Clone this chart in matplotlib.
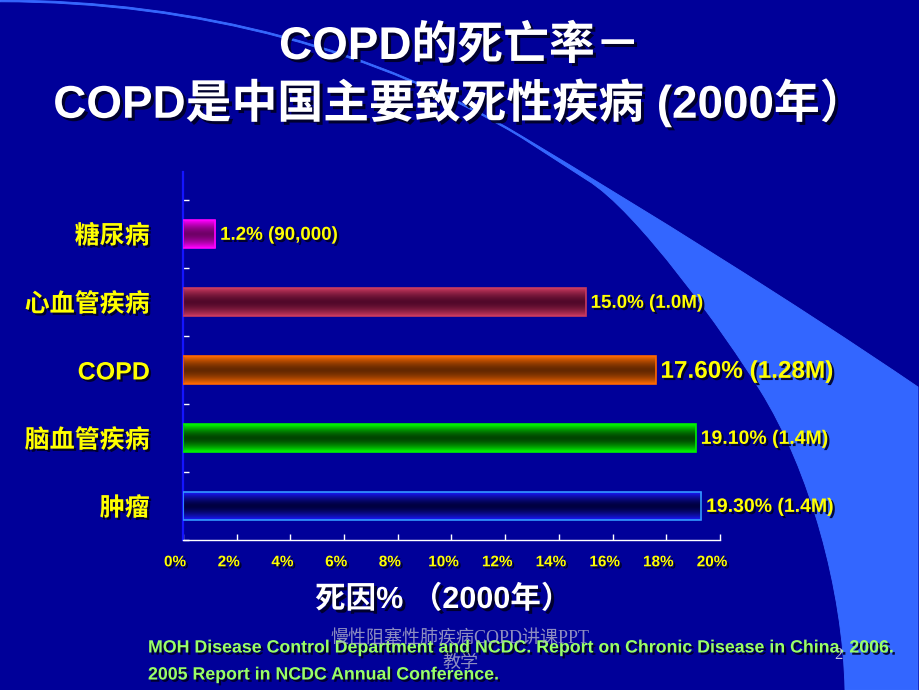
import numpy as np
import matplotlib
matplotlib.use('Agg')
import matplotlib.pyplot as plt
import matplotlib.transforms as mtransforms
from matplotlib import patheffects as pe
from matplotlib.path import Path
from matplotlib.patches import PathPatch
from matplotlib.colors import to_rgb

plt.rcParams['font.family'] = ['Liberation Sans', 'Noto Sans CJK SC', 'DejaVu Sans']

# 数据（自下而上）
categories = ['肿瘤', '脑血管疾病', 'COPD', '心血管疾病', '糖尿病']
percent = [19.3, 19.1, 17.6, 15.0, 1.2]
value_labels = ['19.30% (1.4M)', '19.10% (1.4M)', '17.60% (1.28M)', '15.0% (1.0M)', '1.2% (90,000)']
label_sizes = [14, 14, 17.5, 13.5, 13.5]
edge_colors = ['#1a1aff', '#00ff00', '#ff6a00', '#c8385e', '#ff00ff']
dark_colors = ['#000040', '#004400', '#642800', '#52082a', '#700068']
border_colors = ['#3399ff', '#00ee00', '#ff6600', '#c83a60', '#ff00ff']
x_ticks = [0, 2, 4, 6, 8, 10, 12, 14, 16, 18, 20]
x_ticklabels = [str(v) + '%' for v in x_ticks]

bg_color = '#000099'
yellow = '#ffff00'
shadow = [pe.withSimplePatchShadow(offset=(1.6, -1.6), shadow_rgbFace='#000022', alpha=0.9)]

fig = plt.figure(figsize=(9.2, 6.9), dpi=100, facecolor=bg_color)

# 背景装饰：右侧的浅蓝色弧带
bg = fig.add_axes([0, 0, 1, 1])
bg.set_xlim(0, 920)
bg.set_ylim(690, 0)
bg.axis('off')
verts = [(0, 0),
         (200, 0), (380, 51), (520, 135),
         (650, 213), (790, 300), (918, 387),
         (918, 690), (845, 690),
         (843, 590), (810, 470), (760, 390),
         (725, 334), (637, 210), (587, 180),
         (522, 138),
         (382, 53), (200, 1.8), (0, 1.8),
         (0, 0)]
codes = ([Path.MOVETO] + [Path.CURVE4] * 6 + [Path.LINETO] * 2 + [Path.CURVE4] * 6
         + [Path.LINETO] + [Path.CURVE4] * 3 + [Path.CLOSEPOLY])
bg.add_patch(PathPatch(Path(verts, codes), facecolor='#3366ff', edgecolor='#3a6cff', lw=0.6))

# 主图
ax = fig.add_axes([183 / 920, 150 / 690, 537 / 920, 368 / 690])
ax.set_facecolor('none')
y = np.arange(len(categories))
bars = ax.barh(y, percent, height=0.4, color=dark_colors, edgecolor=border_colors, linewidth=1.2, zorder=3)

# 柱子的圆柱形渐变
t = np.linspace(0, 1, 60)
w = np.abs(2 * t - 1) ** 1.6
for bar, ec, dc in zip(bars, edge_colors, dark_colors):
    e = np.array(to_rgb(ec))
    d = np.array(to_rgb(dc))
    grad = d + (e - d) * w[:, None]
    img = ax.imshow(grad[:, None, :], aspect='auto', origin='lower', zorder=2.5,
                    extent=(bar.get_x(), bar.get_x() + bar.get_width(),
                            bar.get_y(), bar.get_y() + bar.get_height()))
    img.set_clip_path(bar)
    bar.set_facecolor('none')

for yi, v, lbl, fs in zip(y, percent, value_labels, label_sizes):
    ax.annotate(lbl, xy=(v, yi), xytext=(3.5, -1), textcoords='offset points',
                ha='left', va='center', color=yellow, fontsize=fs, fontweight='bold',
                path_effects=shadow, annotation_clip=False)

ax.set_xlim(0, 20)
ax.set_ylim(-0.5, 4.91)

for s in ['top', 'right']:
    ax.spines[s].set_visible(False)
ax.spines['left'].set_color('#1414ff')
ax.spines['left'].set_linewidth(1.6)
ax.spines['bottom'].set_color('white')
ax.spines['bottom'].set_linewidth(1)

ax.set_yticks(y, categories)
ax.set_yticks(np.arange(-0.5, 5, 1), minor=True)
ax.tick_params(axis='y', which='major', length=0, pad=24, labelsize=18, labelcolor=yellow)
ax.tick_params(axis='y', which='minor', direction='in', length=4, color='white', width=1)
for lbl in ax.get_yticklabels():
    lbl.set_fontweight('bold')
    lbl.set_path_effects(shadow)

ax.set_xticks(x_ticks, x_ticklabels)
ax.tick_params(axis='x', direction='in', length=4, color='white', width=1, pad=11,
               labelsize=11, labelcolor=yellow)
offset = mtransforms.ScaledTranslation(-8 / 100, 0, fig.dpi_scale_trans)
for lbl in ax.get_xticklabels():
    lbl.set_fontweight('bold')
    lbl.set_path_effects(shadow)
    lbl.set_transform(lbl.get_transform() + offset)

# 标题
title_shadow = [pe.withSimplePatchShadow(offset=(2.2, -2.2), shadow_rgbFace='#000022', alpha=0.9)]
fig.text(0.5, 1 - 47 / 690, 'COPD的死亡率－', ha='center', va='center', fontsize=33,
         color='white', fontweight='bold', path_effects=title_shadow)
fig.text(0.5, 1 - 103 / 690, 'COPD是中国主要致死性疾病 (2000年）', ha='center', va='center',
         fontsize=33, color='white', fontweight='bold', path_effects=title_shadow)

# x轴标题
fig.text(443 / 920, 1 - 600 / 690, '死因% （2000年）', ha='center', va='center', fontsize=22,
         color='white', fontweight='bold', path_effects=title_shadow)

# 来源
fig.text(148 / 920, 1 - 648 / 690,
         'MOH Disease Control Department and NCDC. Report on Chronic Disease in China. 2006.',
         ha='left', va='center', fontsize=12.8, color='#99ff66', fontweight='bold', path_effects=shadow)
fig.text(148 / 920, 1 - 675 / 690, '2005 Report in NCDC Annual Conference.',
         ha='left', va='center', fontsize=12.8, color='#99ff66', fontweight='bold', path_effects=shadow)

# 水印与页码
wm_font = ['Liberation Serif', 'Noto Sans CJK SC']
fig.text(0.5, 1 - 639 / 690, '慢性阻塞性肺疾病COPD讲课PPT', ha='center', va='center', fontsize=13,
         color='#a8a8c8', alpha=0.85, family=wm_font, zorder=5)
fig.text(0.5, 1 - 663 / 690, '教学', ha='center', va='center', fontsize=13,
         color='#a8a8c8', alpha=0.85, family=wm_font, zorder=5)
fig.text(838 / 920, 1 - 655 / 690, '2', ha='center', va='center', fontsize=12,
         color='#c8c8dd', family=wm_font, zorder=5)

plt.savefig('out.png', dpi=100, facecolor=bg_color)
